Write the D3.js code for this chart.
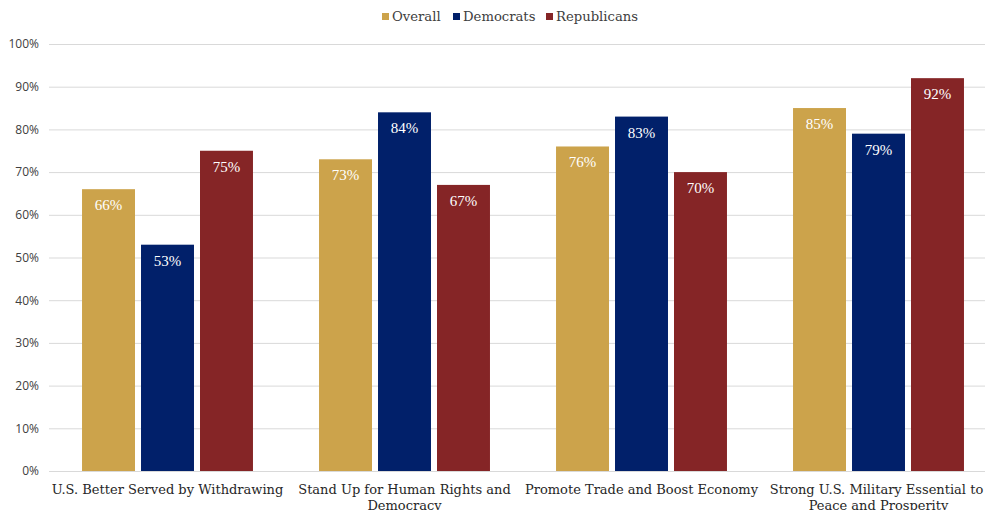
<!DOCTYPE html>
<html>
<head>
<meta charset="utf-8">
<script src="https://cdn.jsdelivr.net/npm/d3@7/dist/d3.min.js"></script>
<style>
  html, body { margin: 0; padding: 0; background: #fff; }
  svg { display: block; }
</style>
</head>
<body>
<svg id="chart" width="985" height="510"></svg>
<script>
// Survey questions and support share (%) by group
const categories = [
  "U.S. Better Served by Withdrawing",
  "Stand Up for Human Rights and Democracy",
  "Promote Trade and Boost Economy",
  "Strong U.S. Military Essential to Peace and Prosperity"
];
const seriesNames = ["Overall", "Democrats", "Republicans"];
const overall = [66, 73, 76, 85];
const democrats = [53, 84, 83, 79];
const republicans = [75, 67, 70, 92];
const yTicks = [0, 10, 20, 30, 40, 50, 60, 70, 80, 90, 100];
const colors = ["#CCA34B", "#01206A", "#852526"];

const seriesValues = [overall, democrats, republicans];

const svg = d3.select("#chart");
const margin = { left: 49, right: -12, top: 44, bottom: 39 };
const W = 985, H = 510;

const x0 = d3.scaleBand()
  .domain(categories)
  .range([margin.left, W - margin.right])
  .paddingInner(0)
  .paddingOuter(0);

const x1 = d3.scaleBand()
  .domain(seriesNames)
  .range([0, x0.bandwidth()])
  .paddingInner(0.102)
  .paddingOuter(0.56);

const y = d3.scaleLinear()
  .domain([0, 100])
  .range([H - margin.bottom, margin.top]);

// gridlines
svg.append("g")
  .selectAll("line")
  .data(yTicks)
  .join("line")
  .attr("x1", margin.left)
  .attr("x2", W - margin.right)
  .attr("y1", d => y(d) + 0.5)
  .attr("y2", d => y(d) + 0.5)
  .attr("stroke", "#d9d9d9")
  .attr("stroke-width", 1);

// y axis labels
const yAxis = d3.axisLeft(y)
  .tickValues(yTicks)
  .tickFormat(d => d + "%")
  .tickSize(0)
  .tickPadding(10);
const yg = svg.append("g")
  .attr("transform", `translate(${margin.left},0)`)
  .call(yAxis);
yg.select(".domain").remove();
yg.selectAll("text")
  .attr("font-family", "'Open Sans', 'Noto Sans', sans-serif")
  .attr("font-size", 12)
  .attr("fill", "#404040");

// bars
const groups = svg.append("g")
  .selectAll("g")
  .data(categories)
  .join("g")
  .attr("transform", d => `translate(${x0(d)},0)`);

groups.selectAll("rect")
  .data((c, ci) => seriesNames.map((s, si) => ({ s, si, v: seriesValues[si][ci] })))
  .join("rect")
  .attr("x", d => x1(d.s))
  .attr("width", x1.bandwidth())
  .attr("y", d => y(d.v))
  .attr("height", d => y(0) - y(d.v))
  .attr("fill", d => colors[d.si]);

// value labels
groups.selectAll("text.val")
  .data((c, ci) => seriesNames.map((s, si) => ({ s, si, v: seriesValues[si][ci] })))
  .join("text")
  .attr("class", "val")
  .attr("x", d => x1(d.s) + x1.bandwidth() / 2)
  .attr("y", d => y(d.v) + 21)
  .attr("text-anchor", "middle")
  .attr("font-family", "'Liberation Serif', serif")
  .attr("font-size", 15)
  .attr("fill", "#ffffff")
  .text(d => d.v + "%");

// x axis baseline
svg.append("line")
  .attr("x1", margin.left)
  .attr("x2", W - margin.right)
  .attr("y1", y(0) + 0.5)
  .attr("y2", y(0) + 0.5)
  .attr("stroke", "#d9d9d9");

// category labels, wrapped to band width
const catLabels = {
  "U.S. Better Served by Withdrawing": ["U.S. Better Served by Withdrawing"],
  "Stand Up for Human Rights and Democracy": ["Stand Up for Human Rights and", "Democracy"],
  "Promote Trade and Boost Economy": ["Promote Trade and Boost Economy"],
  "Strong U.S. Military Essential to Peace and Prosperity": ["Strong U.S. Military Essential to", "Peace and Prosperity"]
};
const xl = svg.append("g");
categories.forEach(c => {
  const t = xl.append("text")
    .attr("x", x0(c) + x0.bandwidth() / 2)
    .attr("y", y(0) + 23)
    .attr("text-anchor", "middle")
    .attr("font-family", "'DejaVu Serif', serif")
    .attr("font-size", 13)
    .attr("fill", "#262626");
  catLabels[c].forEach((line, i) => {
    t.append("tspan")
      .attr("x", x0(c) + x0.bandwidth() / 2 - (i === 0 && c.startsWith("Strong") ? 2 : 0))
      .attr("dy", i === 0 ? 0 : 16)
      .text(line);
  });
});

// legend
const legendItems = [
  { name: "Overall", x: 382 },
  { name: "Democrats", x: 453 },
  { name: "Republicans", x: 546 }
];
const lg = svg.append("g");
legendItems.forEach((d, i) => {
  lg.append("rect")
    .attr("x", d.x)
    .attr("y", 13)
    .attr("width", 7)
    .attr("height", 7)
    .attr("fill", colors[i]);
  lg.append("text")
    .attr("x", d.x + 10)
    .attr("y", 21)
    .attr("font-family", "'DejaVu Serif', serif")
    .attr("font-size", 13.2)
    .attr("fill", "#404040")
    .text(d.name);
});
</script>
</body>
</html>
